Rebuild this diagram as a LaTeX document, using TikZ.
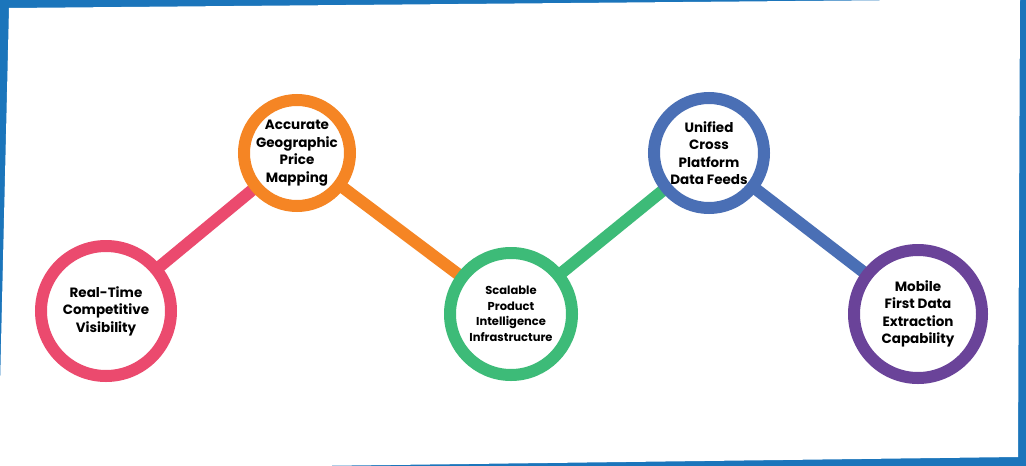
\documentclass[tikz,border=0pt]{standalone}
\usepackage{fontspec}
\setmainfont{Poppins}
\definecolor{frameblue}{HTML}{1B75BB}
\definecolor{cred}{HTML}{EB4A6E}
\definecolor{corange}{HTML}{F58524}
\definecolor{cgreen}{HTML}{3DBB78}
\definecolor{cblue}{HTML}{4A6FB5}
\definecolor{cpurple}{HTML}{6A4399}
\tikzset{
	stage/.style={circle, draw=#1, line width=12pt, fill=white, align=center,
		font=\bfseries\fontsize{13.5}{17.5}\selectfont, inner sep=0pt},
	link/.style={line width=12pt, draw=#1}
}
\begin{document}
\begin{tikzpicture}[x=1pt, y=-1pt]
		\fill[frameblue] (0,0) rectangle (1026,466);
		\useasboundingbox (0,0) rectangle (1026,466);
		\fill[white] (9,8) -- (1020,-1) -- (1018,457) -- (-2,470) -- cycle;
		
		% connectors first, circles on top
		\coordinate (p1) at (106,311);
		\coordinate (p2) at (297,153);
		\coordinate (p3) at (511,314);
		\coordinate (p4) at (709,153);
		\coordinate (p5) at (918,314);
		\draw[link=cred] (p1) -- (p2);
		\draw[link=corange] (p2) -- (p3);
		\draw[link=cgreen] (p3) -- (p4);
		\draw[link=cblue] (p4) -- (p5);
		
		\node[stage=cred, minimum size=130pt] (realtime) at (p1) {Real-Time\\Competitive\\Visibility};
		\node[stage=corange, minimum size=106pt] (geo) at (p2) {Accurate\\Geographic\\Price\\Mapping};
		\node[stage=cgreen, minimum size=122pt, font=\bfseries\fontsize{11.5}{15.5}\selectfont] (scalable) at (p3) {Scalable\\Product\\Intelligence\\Infrastructure};
		\node[stage=cblue, minimum size=110pt] (unified) at (p4) {Unified\\Cross\\Platform\\Data Feeds};
		\node[stage=cpurple, minimum size=128pt] (mobile) at (p5) {Mobile\\First Data\\Extraction\\Capability};
	\end{tikzpicture}
\end{document}
